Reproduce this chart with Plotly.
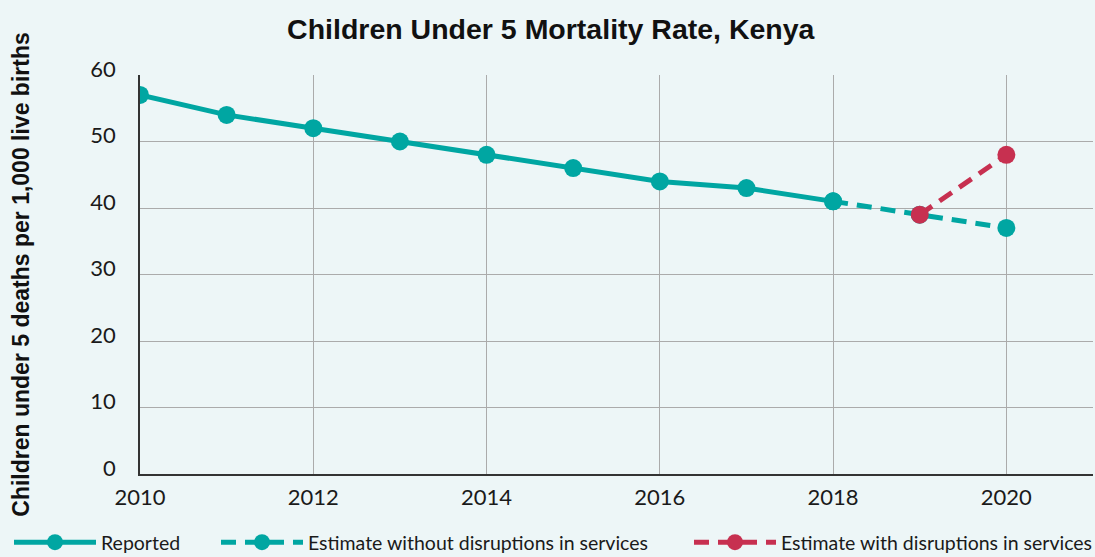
import plotly.graph_objects as go

years_reported = [2010, 2011, 2012, 2013, 2014, 2015, 2016, 2017, 2018]
values_reported = [57, 54, 52, 50, 48, 46, 44, 43, 41]
years_est = [2018, 2019, 2020]
values_no_disruption = [41, 39, 37]
years_disr = [2019, 2020]
values_disruption = [39, 48]

TEAL = "#00A6A2"
RED = "#C73050"
BG = "#EDF6F7"
LIGHTFONT = "Lato, Open Sans, sans-serif"
TICKFONT = dict(family=LIGHTFONT, size=22, color="#1a1a1a")
LEGFONT = dict(family=LIGHTFONT, size=19.5, color="#1a1a1a")

fig = go.Figure()
fig.add_trace(go.Scatter(x=years_reported, y=values_reported, mode="lines+markers",
                         name="Reported", line=dict(color=TEAL, width=5),
                         marker=dict(size=18, color=TEAL), legend="legend"))
fig.add_trace(go.Scatter(x=years_est, y=values_no_disruption, mode="lines+markers",
                         name="Estimate without disruptions in services",
                         line=dict(color=TEAL, width=5, dash="15px,9px"),
                         marker=dict(size=18, color=TEAL), legend="legend2"))
fig.add_trace(go.Scatter(x=years_disr, y=values_disruption, mode="lines+markers",
                         name="Estimate with disruptions in services",
                         line=dict(color=RED, width=5, dash="15px,9px"),
                         marker=dict(size=18, color=RED), legend="legend3"))

leg_common = dict(orientation="h", xref="container", yref="container", y=0.026,
                  xanchor="left", yanchor="middle", font=LEGFONT, itemwidth=82,
                  bgcolor="rgba(0,0,0,0)")

fig.update_layout(
    width=1095, height=557,
    paper_bgcolor=BG, plot_bgcolor=BG,
    margin=dict(l=140, r=2, t=75, b=83),
    title=dict(text="<b>Children Under 5 Mortality Rate, Kenya</b>", x=0.503, xanchor="center",
               y=0.948, yanchor="middle",
               font=dict(family="Liberation Sans, Arial, sans-serif", size=28.5, color="#111")),
    xaxis=dict(range=[2010, 2021], tickvals=[2010, 2012, 2014, 2016, 2018, 2020],
               showgrid=True, gridcolor="#ababab", gridwidth=1.2,
               showline=True, linecolor="#333", linewidth=1.5,
               zeroline=False, tickfont=TICKFONT, ticks="", ticklabelstandoff=3),
    yaxis=dict(range=[0, 60], tickvals=[0, 10, 20, 30, 40, 50, 60],
               showgrid=True, gridcolor="#ababab", gridwidth=1.2,
               showline=True, linecolor="#333", linewidth=1.5,
               zeroline=False, tickfont=TICKFONT, ticks="", ticklabelstandoff=18,
               ticklabelshift=-6,
               title=dict(text="<b>Children under 5 deaths per 1,000 live births</b>",
                          font=dict(family="Liberation Sans, Arial, sans-serif", size=23, color="#111"),
                          standoff=54)),
    legend=dict(x=9 / 1095, **leg_common),
    legend2=dict(x=216 / 1095, **leg_common),
    legend3=dict(x=689 / 1095, **leg_common),
    showlegend=True,
)

fig.write_html("out.html", config={"displayModeBar": False},
               post_script="document.body.style.margin='0px';document.body.style.overflow='hidden';")
